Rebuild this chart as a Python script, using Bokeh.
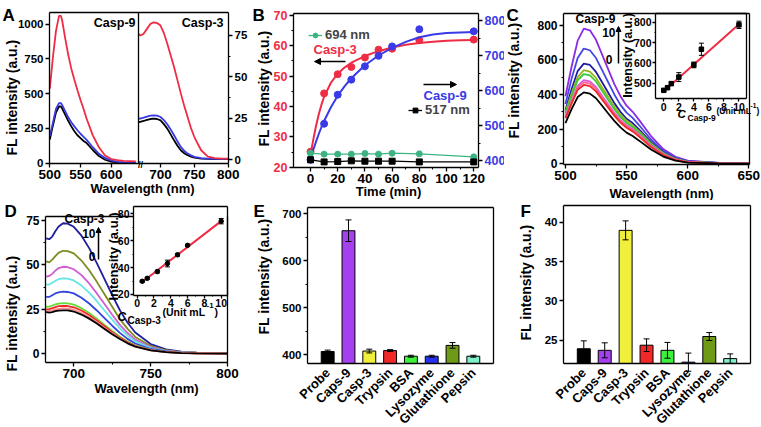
import math
from bokeh.plotting import figure
from bokeh.models import (Range1d, LinearAxis, FixedTicker, Label, Arrow, NormalHead, Whisker,
                          TeeHead, ColumnDataSource, Legend, LegendItem)
from bokeh.layouts import row, column
from bokeh.embed import file_html
from bokeh.resources import INLINE

FONT = "Liberation Sans"

# ---------------- data ----------------
# Panel A, Casp-9 channel (left part)
a9_wl = [500, 505, 510, 515, 518, 520, 525, 530, 535, 540, 545, 550, 555, 560, 570, 580, 590, 600, 610, 620, 640]
a9_red = [537, 760, 950, 1060, 1060, 1030, 900, 780, 680, 600, 525, 455, 390, 320, 200, 115, 55, 30, 22, 17, 14]
a9_blue = [195, 290, 390, 432, 432, 420, 375, 330, 295, 265, 237, 212, 190, 168, 115, 68, 38, 20, 10, 6, 4]
a9_black = [170, 270, 365, 408, 408, 395, 350, 305, 265, 230, 201, 180, 160, 145, 95, 52, 25, 12, 6, 4, 3]
# Panel A, Casp-3 channel (right part)
a3_wl = [667.5, 670, 675, 680, 685, 690, 695, 700, 705, 710, 715, 720, 725, 730, 735, 740, 745, 750, 760, 770, 780, 790, 800]
a3_red = [76, 75, 76, 79, 82, 83, 82.5, 81, 76.5, 70, 63, 56, 48, 40, 32.5, 25.7, 19, 13.6, 5.6, 1.8, 0.8, 0.5, 0.5]
a3_blue = [24.7, 24.8, 25.3, 26, 26.5, 26.7, 26.5, 25.7, 23.8, 21.3, 18.2, 14.7, 11, 7.6, 5.3, 3.6, 2.5, 1.6, 0.8, 0.5, 0.4, 0.4, 0.4]
a3_black = [22.7, 22.8, 23.3, 24, 24.5, 24.7, 24.5, 23.7, 21.4, 18.7, 15.2, 11.6, 8.3, 5.6, 3.8, 2.6, 1.8, 1.2, 0.6, 0.4, 0.3, 0.3, 0.3]

# Panel B, kinetics
b_time = [0, 10, 20, 30, 40, 50, 60, 80, 120]
b_casp3 = [25.1, 44.3, 50.6, 53.0, 56.1, 58.7, 59.0, 61.8, 62.0]
b_casp9 = [402, 505, 588, 631, 669, 699, 726, 775, 769]
b_694 = [24.6, 24.3, 24.3, 24.3, 24.5, 24.3, 24.6, 24.4, 23.4]
b_517 = [402, 396, 397, 399, 398, 398, 398, 396, 396]
b_fit_t = [0, 2, 4, 6, 8, 10, 15, 20, 25, 30, 40, 50, 60, 70, 80, 90, 100, 110, 120]
b_fit_casp3 = [24, 29, 33.5, 37.3, 40.5, 43.2, 47.8, 50.8, 52.8, 54.4, 56.6, 58.2, 59.4, 60.3, 60.9, 61.3, 61.6, 61.8, 61.9]
b_fit_casp9 = [405, 430, 453, 475, 495, 513, 552, 585, 612, 635, 672, 700, 722, 739, 752, 760, 764, 766, 767]

# Panel C, Casp-9 titration spectra
c_wl = [500, 505, 510, 515, 520, 525, 530, 535, 540, 545, 550, 555, 560, 570, 580, 590, 600, 625, 650]
c_spectra = [
    [390, 560, 710, 780, 770, 715, 630, 545, 460, 390, 335, 300, 255, 160, 85, 40, 18, 5, 3],
    [345, 490, 610, 665, 655, 610, 540, 470, 400, 340, 295, 265, 225, 140, 75, 35, 15, 5, 2],
    [310, 430, 535, 578, 570, 530, 470, 410, 350, 300, 260, 235, 200, 125, 65, 30, 13, 5, 2],
    [300, 405, 500, 540, 532, 495, 440, 385, 330, 283, 247, 222, 190, 118, 62, 28, 12, 4, 2],
    [290, 390, 482, 518, 510, 475, 422, 368, 315, 270, 236, 212, 182, 112, 58, 27, 11, 4, 2],
    [275, 365, 450, 482, 475, 443, 393, 343, 295, 253, 222, 200, 171, 105, 55, 25, 10, 3, 2],
    [268, 357, 440, 470, 463, 432, 383, 335, 288, 247, 216, 195, 166, 102, 53, 24, 10, 3, 1],
    [262, 347, 427, 455, 448, 418, 371, 324, 278, 238, 208, 187, 158, 97, 50, 22, 9, 3, 1],
    [235, 315, 385, 412, 405, 378, 335, 290, 248, 210, 180, 160, 135, 82, 42, 18, 7, 3, 1],
]
c_colors = ["#8C2BE6", "#4646E6", "#1E1EA0", "#9AB41E", "#3CC83C", "#DC5ADC", "#FF6496", "#F02828", "#000000"]
c_conc = [0, 0.5, 1, 2, 4, 5, 10]
c_int = [465, 478, 498, 530, 590, 667, 787]
c_err = [6, 6, 8, 22, 14, 30, 18]
c_fit_x = [0, 10]
c_fit_y = [460, 790]

# Panel D, Casp-3 titration spectra
d_wl = [682, 684, 686, 688, 690, 693, 696, 700, 705, 710, 715, 720, 725, 730, 735, 740, 750, 760, 770, 780, 800]
d_spectra = [
    [65, 64.5, 66, 69, 71.5, 73.5, 73.3, 71.5, 66.5, 59.5, 51, 42, 33, 24.5, 17.5, 12, 5.5, 2.5, 1.2, 0.7, 0.3],
    [52, 51.5, 53, 55, 56.8, 58, 57.8, 56.5, 52.5, 47, 40.5, 33.5, 26.5, 19.5, 14, 9.5, 4.4, 2, 1, 0.6, 0.3],
    [43.5, 43.8, 45, 46.8, 48.2, 49, 48.8, 47.6, 44.3, 39.6, 34, 28, 22, 16.3, 11.7, 8, 3.7, 1.7, 0.9, 0.5, 0.2],
    [39, 39, 40, 41, 42, 42.5, 42.3, 41.3, 38.4, 34.4, 29.6, 24.4, 19.2, 14.3, 10.2, 7, 3.2, 1.5, 0.8, 0.5, 0.2],
    [32, 32, 33, 34, 34.6, 35, 34.8, 34, 31.6, 28.3, 24.4, 20.1, 15.8, 11.8, 8.4, 5.8, 2.7, 1.3, 0.7, 0.4, 0.2],
    [26.5, 26.6, 27.2, 27.8, 28.2, 28.5, 28.4, 27.7, 25.7, 23, 19.8, 16.3, 12.9, 9.6, 6.9, 4.7, 2.2, 1, 0.5, 0.3, 0.1],
    [25, 25.2, 25.7, 26.3, 26.8, 27, 26.9, 26.2, 24.4, 21.8, 18.8, 15.5, 12.2, 9.1, 6.5, 4.5, 2.1, 1, 0.5, 0.3, 0.1],
    [24, 24.1, 24.5, 25, 25.3, 25.5, 25.4, 24.8, 23, 20.6, 17.7, 14.6, 11.5, 8.6, 6.1, 4.2, 2, 0.9, 0.5, 0.3, 0.1],
    [23.5, 23.2, 23.5, 24, 24.3, 24.5, 24.4, 23.8, 22.1, 19.8, 17, 14, 11, 8.3, 5.9, 4, 1.9, 0.9, 0.4, 0.2, 0.1],
]
d_colors = ["#1E1EA0", "#7D8C1E", "#D25AD2", "#64E6E6", "#3246DC", "#64DC3C", "#F02828", "#FF8C8C", "#000000"]
d_conc = [0.6, 1.2, 2.4, 3.6, 4.8, 6, 10]
d_int = [29.8, 32, 37, 43, 49.5, 56.5, 74.5]
d_err = [0.8, 0.8, 1, 2.5, 1, 0.8, 2]
d_fit_x = [0.6, 10]
d_fit_y = [29.3, 74.5]

# Panels E and F, selectivity
cats = ["Probe", "Caps-9", "Casp-3", "Trypsin", "BSA", "Lysozyme", "Glutathione", "Pepsin"]
e_vals = [407, 664, 408, 409, 397, 397, 420, 397]
e_err = [3, 23, 4, 2, 2, 2, 6, 2]
f_vals = [23.95, 23.75, 38.95, 24.4, 23.75, 22.25, 25.5, 22.7]
f_err = [1.0, 0.95, 1.2, 0.8, 1.0, 1.15, 0.5, 0.6]
bar_colors = ["#000000", "#A540F0", "#F0F03C", "#F02828", "#3CF03C", "#2830F0", "#6E9A18", "#80F0C8"]

RED = "#EE2D45"
BLUE = "#3A3AE6"
GREEN = "#3CB482"


# ---------------- helpers ----------------
def ext(c_lo, c_hi, p_lo, p_hi, d_lo, d_hi):
    """range covering canvas pixels [c_lo, c_hi] when pixels p_lo..p_hi show d_lo..d_hi"""
    s = (d_hi - d_lo) / (p_hi - p_lo)
    return (d_lo - (p_lo - c_lo) * s, d_hi + (c_hi - p_hi) * s)


class Map:
    def __init__(self, box, xd, yd):
        self.l, self.t, self.r, self.b = box
        self.xd, self.yd = xd, yd

    def x(self, px):
        return self.xd[0] + (px - self.l) / (self.r - self.l) * (self.xd[1] - self.xd[0])

    def y(self, py):
        return self.yd[0] + (self.b - py) / (self.b - self.t) * (self.yd[1] - self.yd[0])


def make_panel(canvas, box, xd, yd):
    cx0, cy0, cx1, cy1 = canvas
    l, t, r, b = box
    xr = ext(cx0, cx1, l, r, xd[0], xd[1])
    yr = ext(-cy1, -cy0, -b, -t, yd[0], yd[1])
    p = figure(width=cx1 - cx0, height=cy1 - cy0, x_range=Range1d(*xr), y_range=Range1d(*yr),
               output_backend="svg", toolbar_location=None, min_border=0,
               x_axis_location=None, y_axis_location=None)
    p.xgrid.visible = False
    p.ygrid.visible = False
    p.outline_line_color = None
    return p, Map(box, xd, yd)


def add_range(p, name, canvas, box, d, vertical=False):
    cx0, cy0, cx1, cy1 = canvas
    l, t, r, b = box
    if vertical:
        p.extra_y_ranges[name] = Range1d(*ext(-cy1, -cy0, -b, -t, d[0], d[1]))
    else:
        p.extra_x_ranges[name] = Range1d(*ext(cx0, cx1, l, r, d[0], d[1]))


def fixed_axis(p, side, loc, bounds, ticks=(), minor=None, size="12px", color="black",
               xname="default", yname="default", line=True, tick_out=4, standoff=2):
    ax = LinearAxis(fixed_location=loc, bounds=bounds, x_range_name=xname, y_range_name=yname)
    ax.axis_line_color = "black" if line else None
    ax.axis_line_width = 1.3
    ax.major_tick_line_color = "black" if ticks else None
    ax.major_tick_line_width = 1.3
    ax.major_tick_out = tick_out
    ax.major_tick_in = 0
    ax.minor_tick_out = max(tick_out - 2, 1)
    ax.minor_tick_in = 0
    ax.minor_tick_line_color = "black" if minor else None
    ax.minor_tick_line_width = 1.1
    ax.major_label_text_font = FONT
    ax.major_label_text_font_style = "bold"
    ax.major_label_text_font_size = size if ticks else "0px"
    ax.major_label_text_color = color
    ax.major_label_standoff = standoff
    ax.ticker = FixedTicker(ticks=list(ticks), minor_ticks=list(minor or []))
    p.add_layout(ax, side)
    return ax


def box_axes(p, xd, yd, xticks, xminor, yticks, yminor, xsize="13.5px", ysize="12px",
             xname="default", yname="default", tick_out=4, standoff=2, top_bounds=None):
    fixed_axis(p, "below", yd[0], xd, xticks, xminor, xsize, xname=xname, yname=yname,
               tick_out=tick_out, standoff=standoff)
    fixed_axis(p, "left", xd[0], yd, yticks, yminor, ysize, xname=xname, yname=yname,
               tick_out=tick_out, standoff=standoff)
    fixed_axis(p, "above", yd[1], top_bounds or xd, xname=xname, yname=yname)
    fixed_axis(p, "right", xd[1], yd, xname=xname, yname=yname)


def lab(p, m, px, py, text, size=13, align="left", baseline="middle", color="black",
        angle=0.0, style="bold"):
    p.add_layout(Label(x=m.x(px), y=m.y(py), text=text, text_font=FONT,
                       text_font_size=f"{size}px", text_font_style=style, text_color=color,
                       text_align=align, text_baseline=baseline, angle=angle))


def arrow(p, m, px0, py0, px1, py1, size=6, width=1.5):
    p.add_layout(Arrow(x_start=m.x(px0), y_start=m.y(py0), x_end=m.x(px1), y_end=m.y(py1),
                       line_color="black", line_width=width,
                       end=NormalHead(size=size, fill_color="black", line_color="black")))


def whisker(p, src, base, head=5, xname="default", yname="default"):
    p.add_layout(Whisker(source=src, base=base, upper="up", lower="lo", line_color="black",
                         line_width=1, level="annotation", x_range_name=xname, y_range_name=yname,
                         upper_head=TeeHead(size=head, line_color="black", line_width=1),
                         lower_head=TeeHead(size=head, line_color="black", line_width=1)))


def err_source(x, y, e):
    return ColumnDataSource(dict(x=x, y=y, lo=[v - d for v, d in zip(y, e)],
                                 up=[v + d for v, d in zip(y, e)]))


# ---------------- Panel A ----------------
A_CV = (0, 0, 248, 200)
A_BOX = (49, 12, 228, 163)
A_XD = (499.5, 791.0)
A_YD = (-2.0, 1084.0)
A_RBOX = (138, 12, 228, 163)
A_XRD = (667.5, 800.4)
A_YRD = (-2.4, 88.9)
pA, mA = make_panel(A_CV, A_BOX, A_XD, A_YD)
add_range(pA, "xr", A_CV, A_RBOX, A_XRD)
add_range(pA, "yr", A_CV, A_RBOX, A_YRD, vertical=True)
for ys, col in [(a9_black, "black"), (a9_blue, BLUE), (a9_red, RED)]:
    pA.line(a9_wl, ys, line_color=col, line_width=1.8)
for ys, col in [(a3_black, "black"), (a3_blue, BLUE), (a3_red, RED)]:
    pA.line(a3_wl, ys, line_color=col, line_width=1.8, x_range_name="xr", y_range_name="yr")
fixed_axis(pA, "below", A_YD[0], A_XD, [500, 550, 600], None, "13.5px")
fixed_axis(pA, "left", A_XD[0], A_YD, [0, 250, 500, 750, 1000], None, "11.5px")
fixed_axis(pA, "above", A_YD[1], A_XD)
fixed_axis(pA, "left", 644, A_YD)
fixed_axis(pA, "below", A_YD[0], A_XRD, [700, 750, 800], None, "13.5px", xname="xr", line=False)
fixed_axis(pA, "right", A_XRD[1], A_YRD, [0, 25, 50, 75], [12.5, 37.5, 62.5], "11.5px",
           xname="xr", yname="yr")
lab(pA, mA, 140, 164, "//", size=9, align="center")
lab(pA, mA, 135, 22, "Casp-9", size=12.5, align="right")
lab(pA, mA, 223, 22, "Casp-3", size=12.5, align="right")
lab(pA, mA, 11, 97, "FL intensity (a.u.)", size=14, align="center", angle=math.pi / 2)
lab(pA, mA, 142, 188, "Wavelength (nm)", size=13, align="center")
lab(pA, mA, 2, 5, "A", size=17, baseline="top")

# ---------------- Panel B ----------------
B_CV = (248, 0, 504, 200)
B_BOX = (293, 13, 478, 167)
B_XD = (-12.5, 123.5)
B_YD = (19.9, 70.6)
B_YRD = (380, 820)
pB, mB = make_panel(B_CV, B_BOX, B_XD, B_YD)
add_range(pB, "yr", B_CV, B_BOX, B_YRD, vertical=True)
pB.line(b_fit_t, b_fit_casp3, line_color=RED, line_width=2)
pB.scatter(b_time, b_casp3, marker="circle", size=7, fill_color=RED, line_color=RED)
pB.line(b_fit_t, b_fit_casp9, line_color=BLUE, line_width=2, y_range_name="yr")
pB.scatter(b_time, b_casp9, marker="circle", size=7, fill_color=BLUE, line_color=BLUE, y_range_name="yr")
g_line = pB.line(b_time, b_694, line_color=GREEN, line_width=1.3)
g_pts = pB.scatter(b_time, b_694, marker="circle", size=6, fill_color=GREEN, line_color=GREEN)
k_line = pB.line(b_time, b_517, line_color="black", line_width=1.3, y_range_name="yr")
k_pts = pB.scatter(b_time, b_517, marker="square", size=6, fill_color="black", line_color="black",
                   y_range_name="yr")
fixed_axis(pB, "below", B_YD[0], B_XD, [0, 20, 40, 60, 80, 100, 120], [10, 30, 50, 70, 90, 110], "13.5px")
fixed_axis(pB, "left", B_XD[0], B_YD, [20, 30, 40, 50, 60, 70], [25, 35, 45, 55, 65], "12.5px", color=RED)
fixed_axis(pB, "above", B_YD[1], B_XD)
fixed_axis(pB, "right", B_XD[1], B_YRD, [400, 500, 600, 700, 800], [450, 550, 650, 750], "12.5px",
           color=BLUE, yname="yr")
for item, loc in [(LegendItem(label="694 nm", renderers=[g_line, g_pts]), (60, 158)),
                  (LegendItem(label="517 nm", renderers=[k_line, k_pts]), (160, 83))]:
    leg = Legend(items=[item], location=loc, padding=0, margin=0, spacing=0,
                 glyph_width=14, glyph_height=12, label_height=12, label_standoff=3,
                 border_line_color=None, background_fill_alpha=0)
    leg.label_text_font = FONT
    leg.label_text_font_style = "bold"
    leg.label_text_font_size = "13px"
    pB.add_layout(leg)
lab(pB, mB, 313, 49, "Casp-3", size=13, color=RED)
lab(pB, mB, 423, 95, "Casp-9", size=13, color=BLUE)
arrow(pB, mB, 345, 61, 314, 61)
arrow(pB, mB, 423, 84, 456, 84)
lab(pB, mB, 263, 88, "FL intensity (a.u.)", size=14, align="center", angle=math.pi / 2)
lab(pB, mB, 388, 191, "Time (min)", size=13, align="center")
lab(pB, mB, 252, 5, "B", size=17, baseline="top")

# ---------------- Panel C ----------------
C_CV = (504, 0, 761, 200)
C_BOX = (563, 13, 749, 164)
C_XD = (498.4, 650.6)
C_YD = (-4.0, 867.0)
C_IBOX = (655, 13, 746, 98.3)
C_IXD = (-1.1, 11.0)
C_IYD = (423.3, 842.8)
pC, mC = make_panel(C_CV, C_BOX, C_XD, C_YD)
for ys, col in zip(c_spectra, c_colors):
    pC.line(c_wl, ys, line_color=col, line_width=1.8)
box_axes(pC, C_XD, C_YD, [500, 550, 600, 650], [525, 575, 625], [0, 200, 400, 600, 800],
         [100, 300, 500, 700])
add_range(pC, "ix", C_CV, C_IBOX, C_IXD)
add_range(pC, "iy", C_CV, C_IBOX, C_IYD, vertical=True)
box_axes(pC, C_IXD, C_IYD, [0, 2, 4, 6, 8, 10], [1, 3, 5, 7, 9], [500, 600, 700, 800],
         [550, 650, 750], xsize="10.5px", ysize="10.5px", xname="ix", yname="iy", tick_out=3,
         standoff=1)
pC.line(c_fit_x, c_fit_y, line_color=RED, line_width=2, x_range_name="ix", y_range_name="iy")
src_c = err_source(c_conc, c_int, c_err)
whisker(pC, src_c, "x", xname="ix", yname="iy")
pC.scatter("x", "y", source=src_c, marker="square", size=4.5, fill_color="black",
           line_color="black", x_range_name="ix", y_range_name="iy")
lab(pC, mC, 595, 18, "Casp-9", size=12, align="center")
lab(pC, mC, 615, 32, "10", size=12, align="right")
lab(pC, mC, 612, 59, "0", size=12, align="right")
arrow(pC, mC, 618, 63, 618, 26, size=5, width=1.5)
lab(pC, mC, 627, 55, "Intensity (a.u.)", size=12.5, align="center", angle=math.pi / 2)
lab(pC, mC, 677, 113, "C", size=11.5, style="bold italic")
lab(pC, mC, 687, 117, "Casp-9", size=8.5)
lab(pC, mC, 716, 110, "(Unit mL", size=8.5)
lab(pC, mC, 750, 105, "-1", size=6.5)
lab(pC, mC, 756, 110, ")", size=8.5)
lab(pC, mC, 513, 80, "FL intensity (a.u.)", size=14, align="center", angle=math.pi / 2)
lab(pC, mC, 661, 193, "Wavelength (nm)", size=13, align="center")
lab(pC, mC, 506, 5, "C", size=17, baseline="top")

# ---------------- Panel D ----------------
D_CV = (0, 200, 248, 427)
D_BOX = (45, 216, 227, 362)
D_XD = (681.6, 800.0)
D_YD = (-4.9, 77.3)
D_IBOX = (133, 206, 227, 294.5)
D_IXD = (-0.44, 10.75)
D_IYD = (19.6, 85.4)
pD, mD = make_panel(D_CV, D_BOX, D_XD, D_YD)
for ys, col in zip(d_spectra, d_colors):
    pD.line(d_wl, ys, line_color=col, line_width=1.8)
box_axes(pD, D_XD, D_YD, [700, 750, 800], [725, 775], [0, 25, 50, 75], [12.5, 37.5, 62.5],
         top_bounds=(D_XD[0], mD.x(D_IBOX[0])))
add_range(pD, "ix", D_CV, D_IBOX, D_IXD)
add_range(pD, "iy", D_CV, D_IBOX, D_IYD, vertical=True)
box_axes(pD, D_IXD, D_IYD, [0, 2, 4, 6, 8, 10], [1, 3, 5, 7, 9], [20, 40, 60, 80], [30, 50, 70],
         xsize="10.5px", ysize="10.5px", xname="ix", yname="iy", tick_out=3, standoff=1)
pD.line(d_fit_x, d_fit_y, line_color=RED, line_width=2, x_range_name="ix", y_range_name="iy")
src_d = err_source(d_conc, d_int, d_err)
whisker(pD, src_d, "x", xname="ix", yname="iy")
pD.scatter("x", "y", source=src_d, marker="circle", size=4.5, fill_color="black",
           line_color="black", x_range_name="ix", y_range_name="iy")
lab(pD, mD, 84, 218, "Casp-3", size=12, align="center")
lab(pD, mD, 95, 233, "10", size=12, align="right")
lab(pD, mD, 95, 256, "0", size=12, align="right")
arrow(pD, mD, 98, 259, 98, 227, size=5, width=1.5)
lab(pD, mD, 113, 256, "Intensity (a.u.)", size=13, align="center", angle=math.pi / 2)
lab(pD, mD, 117, 316, "C", size=12, style="bold italic")
lab(pD, mD, 127, 320, "Casp-3", size=10)
lab(pD, mD, 162, 311, "(Unit mL", size=10.5)
lab(pD, mD, 206, 305, "-1", size=8)
lab(pD, mD, 214, 311, ")", size=10.5)
lab(pD, mD, 11, 313, "FL intensity (a.u.)", size=14, align="center", angle=math.pi / 2)
lab(pD, mD, 146, 388, "Wavelength (nm)", size=13, align="center")
lab(pD, mD, 4, 201, "D", size=17, baseline="top")


# ---------------- Panels E and F ----------------
def bar_panel(canvas, box, yd, vals, errs, yticks, yminor, letter, letter_px, ylab_px):
    xd = (-0.97, len(cats) - 1 + 0.97)
    p, m = make_panel(canvas, box, xd, yd)
    idx = list(range(len(cats)))
    src = ColumnDataSource(dict(x=idx, val=vals, color=bar_colors,
                                lo=[v - e for v, e in zip(vals, errs)],
                                up=[v + e for v, e in zip(vals, errs)]))
    p.vbar(x="x", top="val", bottom=yd[0], width=0.62, fill_color="color", line_color="black",
           line_width=1, source=src)
    whisker(p, src, "x", head=6)
    xa = fixed_axis(p, "below", yd[0], xd, idx, None, "13px", standoff=3)
    xa.major_tick_line_color = None
    xa.major_label_orientation = math.pi / 4
    xa.major_label_overrides = {i: c for i, c in zip(idx, cats)}
    fixed_axis(p, "left", xd[0], yd, yticks, yminor, "11.5px")
    fixed_axis(p, "above", yd[1], xd)
    fixed_axis(p, "right", xd[1], yd)
    lab(p, m, ylab_px[0], ylab_px[1], "FL intensity (a.u.)", size=14, align="center",
        angle=math.pi / 2)
    lab(p, m, letter_px[0], letter_px[1], letter, size=17, baseline="top")
    return p


pE = bar_panel((248, 200, 504, 427), (307, 207, 493, 363), (381.5, 713.4), e_vals, e_err,
               [400, 500, 600, 700], [450, 550, 650], "E", (253, 201), (263, 276))
pF = bar_panel((504, 200, 761, 427), (563, 205, 750, 363), (22.08, 42.1), f_vals, f_err,
               [25, 30, 35, 40], None, "F", (520, 201), (525, 282))

layout = column(row(pA, pB, pC), row(pD, pE, pF))
open("out.html", "w").write(file_html(layout, INLINE))
